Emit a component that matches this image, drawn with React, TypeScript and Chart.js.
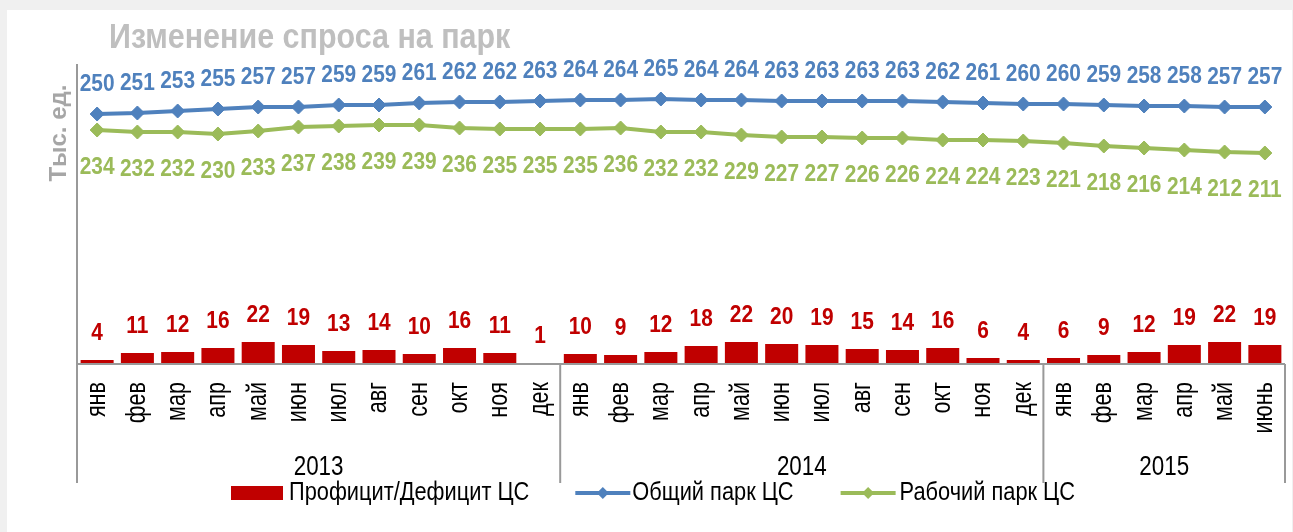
import React, { useEffect, useRef } from 'react';
import { Chart, registerables } from 'chart.js';

Chart.register(...registerables);

// ---------- DATA ----------
const months: string[] = [
  'янв', 'фев', 'мар', 'апр', 'май', 'июн', 'июл', 'авг', 'сен', 'окт', 'ноя', 'дек',
  'янв', 'фев', 'мар', 'апр', 'май', 'июн', 'июл', 'авг', 'сен', 'окт', 'ноя', 'дек',
  'янв', 'фев', 'мар', 'апр', 'май', 'июнь',
];
const yearLabels: string[] = ['2013', '2014', '2015'];
const yearSpans: number[] = [12, 12, 6];

const surplus: number[] = [
  4, 11, 12, 16, 22, 19, 13, 14, 10, 16, 11, 1,
  10, 9, 12, 18, 22, 20, 19, 15, 14, 16, 6, 4,
  6, 9, 12, 19, 22, 19,
];
const totalFleet: number[] = [
  250, 251, 253, 255, 257, 257, 259, 259, 261, 262, 262, 263,
  264, 264, 265, 264, 264, 263, 263, 263, 263, 262, 261, 260,
  260, 259, 258, 258, 257, 257,
];
const workingFleet: number[] = [
  234, 232, 232, 230, 233, 237, 238, 239, 239, 236, 235, 235,
  235, 236, 232, 232, 229, 227, 227, 226, 226, 224, 224, 223,
  221, 218, 216, 214, 212, 211,
];
const seriesNames: string[] = ['Профицит/Дефицит ЦС', 'Общий парк ЦС', 'Рабочий парк ЦС'];
const chartTitle = 'Изменение спроса на парк';
const yAxisTitle = 'Тыс. ед.';

// ---------- STYLE ----------
const RED = '#c00000';
const BLUE = '#4f81bd';
const GREEN = '#9bbb59';
const AXIS = '#999999';
const FONT = "'Liberation Sans', Arial, sans-serif";
const W = 1293;
const H = 532;

// draw text condensed horizontally (along its own direction) by sx
function txt(ctx: CanvasRenderingContext2D, s: string, x: number, y: number, sx: number, rot = 0) {
  ctx.save();
  ctx.translate(x, y);
  if (rot) ctx.rotate(rot);
  ctx.scale(sx, 1);
  ctx.fillText(s, 0, 0);
  ctx.restore();
}

const decorPlugin = {
  id: 'decor',
  beforeDraw(chart: any) {
    const ctx = chart.ctx;
    ctx.save();
    ctx.fillStyle = '#f0f0f0';
    ctx.fillRect(0, 0, W, H);
    ctx.fillStyle = '#ffffff';
    ctx.fillRect(7, 10, 1285, H - 10);
    ctx.restore();
  },
  afterDatasetsDraw(chart: any) {
    const ctx: CanvasRenderingContext2D = chart.ctx;
    const area = chart.chartArea;
    const xs = chart.scales.x;
    const base = area.bottom;
    const axisBottom = 483;
    ctx.save();

    // axes
    ctx.strokeStyle = AXIS;
    ctx.lineWidth = 2;
    ctx.beginPath();
    ctx.moveTo(area.left, area.top);
    ctx.lineTo(area.left, axisBottom);
    ctx.moveTo(area.left, base);
    ctx.lineTo(area.right, base);
    ctx.stroke();

    // year separators
    const step = (area.right - area.left) / months.length;
    let idx = 0;
    ctx.beginPath();
    yearSpans.forEach((n) => {
      idx += n;
      const x = area.left + idx * step;
      ctx.moveTo(x, base);
      ctx.lineTo(x, axisBottom);
    });
    ctx.stroke();

    // month labels (rotated)
    ctx.fillStyle = '#000';
    ctx.font = `27px ${FONT}`;
    ctx.textAlign = 'right';
    ctx.textBaseline = 'middle';
    months.forEach((m, i) => {
      const x = xs.getPixelForValue(i);
      txt(ctx, m, x, base + 18, 0.8, -Math.PI / 2);
    });

    // year labels
    ctx.font = `28px ${FONT}`;
    ctx.textAlign = 'center';
    idx = 0;
    yearLabels.forEach((y, k) => {
      const x0 = area.left + idx * step;
      idx += yearSpans[k];
      const x1 = area.left + idx * step;
      txt(ctx, y, (x0 + x1) / 2, 467, 0.8);
    });

    // data labels
    ctx.font = `bold 24px ${FONT}`;
    ctx.textAlign = 'center';
    ctx.textBaseline = 'middle';
    const LS = 0.87;
    const barMeta = chart.getDatasetMeta(0);
    ctx.fillStyle = RED;
    barMeta.data.forEach((el: any, i: number) => {
      txt(ctx, String(surplus[i]), el.x, el.y - 27, LS);
    });
    const blueMeta = chart.getDatasetMeta(1);
    ctx.fillStyle = BLUE;
    blueMeta.data.forEach((el: any, i: number) => {
      txt(ctx, String(totalFleet[i]), el.x, el.y - 30, LS);
    });
    const greenMeta = chart.getDatasetMeta(2);
    ctx.fillStyle = GREEN;
    greenMeta.data.forEach((el: any, i: number) => {
      txt(ctx, String(workingFleet[i]), el.x, el.y + 37, LS);
    });

    // title
    ctx.fillStyle = '#bfbfbf';
    ctx.font = `bold 35px ${FONT}`;
    ctx.textAlign = 'left';
    ctx.textBaseline = 'alphabetic';
    txt(ctx, chartTitle, 109, 48, 0.87);

    // y axis title
    ctx.fillStyle = '#a6a6a6';
    ctx.font = `bold 24px ${FONT}`;
    ctx.textAlign = 'center';
    txt(ctx, yAxisTitle, 66, 133, 1, -Math.PI / 2);

    // legend
    const ly = 493;
    const GS = 0.872;
    ctx.font = `25px ${FONT}`;
    ctx.textAlign = 'left';
    ctx.textBaseline = 'middle';
    let lx = 231;
    ctx.fillStyle = RED;
    ctx.fillRect(lx, ly - 7, 52, 14);
    lx += 58;
    ctx.fillStyle = '#000';
    txt(ctx, seriesNames[0], lx, ly, GS);
    lx += ctx.measureText(seriesNames[0]).width * GS + 46;
    const lineMarker = (x: number, color: string) => {
      ctx.strokeStyle = color;
      ctx.fillStyle = color;
      ctx.lineWidth = 4;
      ctx.beginPath();
      ctx.moveTo(x, ly);
      ctx.lineTo(x + 55, ly);
      ctx.stroke();
      const cx = x + 27.5;
      ctx.beginPath();
      ctx.moveTo(cx, ly - 6);
      ctx.lineTo(cx + 6, ly);
      ctx.lineTo(cx, ly + 6);
      ctx.lineTo(cx - 6, ly);
      ctx.closePath();
      ctx.fill();
    };
    lineMarker(lx, BLUE);
    lx += 57;
    ctx.fillStyle = '#000';
    txt(ctx, seriesNames[1], lx, ly, GS);
    lx += ctx.measureText(seriesNames[1]).width * GS + 47;
    lineMarker(lx, GREEN);
    lx += 59;
    ctx.fillStyle = '#000';
    txt(ctx, seriesNames[2], lx, ly, GS);

    ctx.restore();
  },
};

export default function App() {
  const ref = useRef<HTMLCanvasElement | null>(null);
  useEffect(() => {
    if (!ref.current) return;
    const chart = new Chart(ref.current, {
      type: 'bar',
      data: {
        labels: months.map((m, i) => `${m}-${i}`),
        datasets: [
          {
            type: 'bar',
            label: seriesNames[0],
            data: surplus,
            backgroundColor: RED,
            borderWidth: 0,
            barPercentage: 0.82,
            categoryPercentage: 1,
          },
          {
            type: 'line',
            label: seriesNames[1],
            data: totalFleet,
            borderColor: BLUE,
            backgroundColor: BLUE,
            borderWidth: 4,
            pointStyle: 'rectRot',
            pointRadius: 7,
            pointBackgroundColor: BLUE,
            pointBorderColor: BLUE,
            pointBorderWidth: 1,
            tension: 0,
          },
          {
            type: 'line',
            label: seriesNames[2],
            data: workingFleet,
            borderColor: GREEN,
            backgroundColor: GREEN,
            borderWidth: 4,
            pointStyle: 'rectRot',
            pointRadius: 7,
            pointBackgroundColor: GREEN,
            pointBorderColor: GREEN,
            pointBorderWidth: 1,
            tension: 0,
          },
        ] as any,
      },
      options: {
        responsive: false,
        animation: false,
        devicePixelRatio: 1,
        layout: { padding: { left: 77, right: 8, top: 64, bottom: 168 } },
        scales: {
          x: { type: 'category', display: false, offset: true, grid: { display: false } },
          y: { min: 0, max: 300, display: false },
        },
        plugins: {
          legend: { display: false },
          title: { display: false },
          tooltip: { enabled: false },
        },
      },
      plugins: [decorPlugin],
    });
    return () => chart.destroy();
  }, []);
  return (
    <div style={{ position: 'fixed', left: 0, top: 0, width: W, height: H }}>
      <canvas ref={ref} width={W} height={H} style={{ width: W, height: H, display: 'block' }} />
    </div>
  );
}
